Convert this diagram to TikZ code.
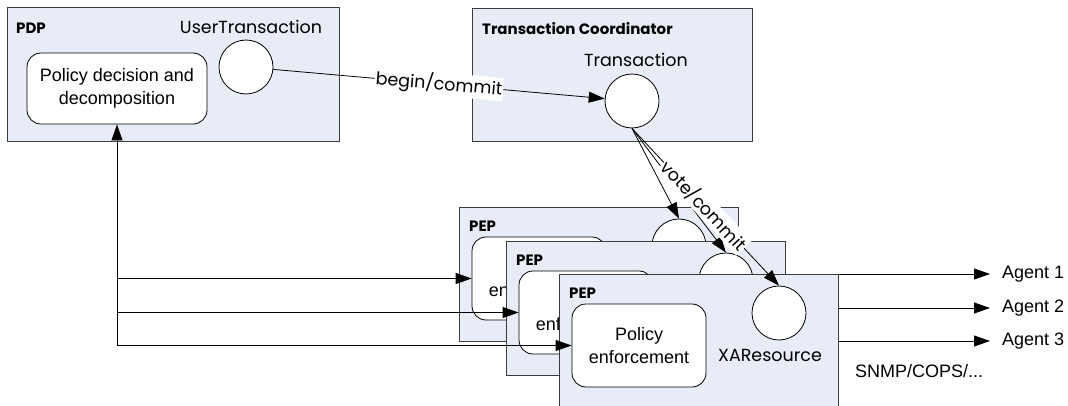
\documentclass[tikz,border=0pt]{standalone}
\usepackage{fontspec}
\setmainfont{Liberation Sans}
\newfontfamily\geo{Poppins}
\usetikzlibrary{arrows.meta}
\definecolor{boxfill}{RGB}{232,236,246}
\definecolor{boxline}{RGB}{60,60,60}
\begin{document}
\begin{tikzpicture}[x=1pt,y=-1pt,
  cbox/.style={draw=boxline, line width=1.1pt, fill=boxfill, inner sep=0, anchor=north west},
  rbox/.style={draw=black, line width=0.8pt, fill=white, rounded corners=14pt, inner sep=0,
               align=center, font=\fontsize{18}{23}\selectfont},
  port/.style={circle, draw=black, line width=0.8pt, fill=white, minimum size=54pt, inner sep=0},
  title/.style={font=\geo\bfseries\fontsize{15}{18}\selectfont, anchor=west, inner sep=0},
  glabel/.style={font=\geo\fontsize{17.5}{20}\selectfont, inner sep=0},
  tlabel/.style={font=\fontsize{18}{21}\selectfont, inner sep=0},
  arr/.style={-{Triangle[length=16pt,width=11pt]}, line width=0.8pt},
  onlab/.style={glabel, sloped, fill=white, inner sep=1pt}]
\useasboundingbox (0,0) rectangle (1068,406);
% PDP
\node (PDP) [cbox, minimum width=332pt, minimum height=134pt] at (7,7) {};
\node (PDPt) [title] at (16,28) {PDP};
\node (UTt) [glabel] at (251,27) {UserTransaction};
\node (PD) [rbox, minimum width=180pt, minimum height=71pt] at (117,88.5) {Policy decision and\\decomposition};
\node (UT) [port] at (246,67) {};
% Transaction coordinator
\node (TC) [cbox, minimum width=280pt, minimum height=133pt] at (472,8) {};
\node (TCt) [title] at (482,29) {Transaction Coordinator};
\node (Tt) [glabel] at (636,60) {Transaction};
\node (T) [port] at (632,101) {};
% PEPs
\foreach \i/\x/\y in {1/459/207, 2/506/241, 3/559/274} {
  \node (PEP\i) [cbox, minimum width=279pt, minimum height=134pt] at (\x,\y) {};
  \node (PEPt\i) [title] at (\x+10,\y+19) {PEP};
  \node (PE\i) [rbox, minimum width=134pt, minimum height=83pt] at (\x+80,\y+71.5) {Policy\\enforcement};
  \node (XA\i) [port] at (\x+220,\y+39) {};
}
\node (XAt) [glabel] at (770,355) {XAResource};
% feedback arrows
\draw[arr] (PD.south |- PE3.west) -- (PD.south);
\foreach \i in {1,2,3} {
  \draw[arr] (PD.south |- PE\i.west) -- (PE\i.west);
}
% vote/commit arrows
\draw[arr] (T.south) -- (XA1.north);
\draw[arr] (T.south) -- (XA2.north);
\draw[arr] (T.south) -- node[onlab, pos=0.49] {vote/commit} (XA3.north);
% begin/commit
\draw[arr] (UT) -- node[onlab, pos=0.5] {begin/commit} (T);
% agents
\node (A1) [tlabel, anchor=west, inner xsep=12pt] at (990,274) {Agent 1};
\node (A2) [tlabel, anchor=west, inner xsep=12pt] at (990,308) {Agent 2};
\node (A3) [tlabel, anchor=west, inner xsep=12pt] at (990,341) {Agent 3};
\foreach \i in {1,2,3} {
  \draw[arr] (A\i.west -| PEP3.east) -- (A\i.west);
}
\node (SN) [tlabel, anchor=west] at (855,371) {SNMP/COPS/...};
\end{tikzpicture}
\end{document}
